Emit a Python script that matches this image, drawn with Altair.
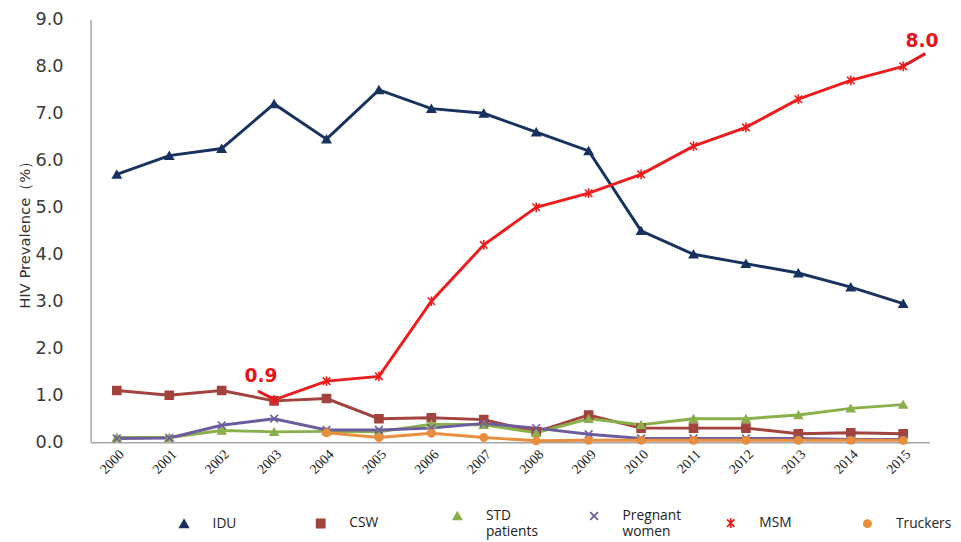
import altair as alt
import pandas as pd

years = list(range(2000, 2016))
series_names = ["IDU", "CSW", "STD patients", "Pregnant women", "MSM", "Truckers"]
idu = [5.7, 6.1, 6.25, 7.2, 6.45, 7.5, 7.1, 7.0, 6.6, 6.2, 4.5, 4.0, 3.8, 3.6, 3.3, 2.95]
csw = [1.1, 1.0, 1.1, 0.88, 0.93, 0.5, 0.52, 0.48, 0.22, 0.58, 0.3, 0.3, 0.3, 0.18, 0.2, 0.18]
std = [0.1, 0.1, 0.25, 0.22, 0.23, 0.22, 0.38, 0.37, 0.2, 0.5, 0.37, 0.5, 0.5, 0.58, 0.72, 0.8]
pregnant = [0.08, 0.09, 0.36, 0.5, 0.26, 0.26, 0.3, 0.4, 0.3, 0.17, 0.08, 0.08, 0.08, 0.08, 0.06, 0.06]
msm = [None, None, None, 0.9, 1.3, 1.4, 3.0, 4.2, 5.0, 5.3, 5.7, 6.3, 6.7, 7.3, 7.7, 8.0]
truckers = [None, None, None, None, 0.2, 0.1, 0.19, 0.1, 0.03, 0.04, 0.04, 0.04, 0.04, 0.04, 0.04, 0.04]

colors = ["#17325F", "#A3433E", "#8AB04B", "#6C5C9E", "#EE1C1C", "#E98E3C"]
shapes = ["triangle-up", "square", "triangle-up",
          "M-1,-1L1,1M-1,1L1,-1",
          "M-1,-1L1,1M-1,1L1,-1M0,-1.3L0,1.3",
          "circle"]
sizes = [70, 55, 70, 90, 90, 70]

rows = []
for name, vals in zip(series_names, [idu, csw, std, pregnant, msm, truckers]):
    for yr, v in zip(years, vals):
        if v is not None:
            rows.append({"series": name, "year": yr, "value": v, "order": series_names.index(name)})
df = pd.DataFrame(rows)

ann_text = pd.DataFrame({"x": [2002.75, 2015.36], "y": [1.40, 8.54], "label": ["0.9", "8.0"]})
ann_lines = pd.DataFrame({"x": [2002.69, 2015.0], "x2": [2003.06, 2015.42],
                          "y": [1.09, 8.0], "y2": [0.88, 8.27]})

xscale = alt.Scale(domain=[1999.5, 2015.5], nice=False, zero=False)
yscale = alt.Scale(domain=[0, 9], nice=False)
cscale = alt.Scale(domain=series_names, range=colors)
shscale = alt.Scale(domain=series_names, range=shapes)

X = alt.X("year:Q", scale=xscale, title=None,
          axis=alt.Axis(values=years, format="d", labelAngle=-45, grid=False, ticks=False))
Y = alt.Y("value:Q", scale=yscale, title="HIV Prevalence（%）",
          axis=alt.Axis(values=list(range(0, 10)), format=".1f", grid=False, ticks=False))

legend = alt.Legend(
    title=None, orient="none", legendX=88, legendY=498, direction="horizontal",
    columns=6, gridAlign="all", columnPadding=42,
    labelFont="Open Sans", labelFontSize=14, labelColor="#222222",
    labelOffset=22, symbolStrokeWidth=1.8, symbolSize=100,
    labelExpr="indexof(datum.label, ' ') > 0 ? split(datum.label, ' ') : datum.label",
)

lines = alt.Chart(df).mark_line(strokeWidth=3).encode(
    x=X, y=Y,
    color=alt.Color("series:N", scale=cscale, legend=legend),
    order="order:Q",
)

points = alt.Chart(df).mark_point(filled=True, strokeWidth=1.6, opacity=1).encode(
    x=X, y=Y,
    color=alt.Color("series:N", scale=cscale, legend=legend),
    stroke=alt.Stroke("series:N", scale=cscale, legend=legend),
    shape=alt.Shape("series:N", scale=shscale, legend=legend),
    size=alt.Size("series:N", scale=alt.Scale(domain=series_names, range=sizes), legend=None),
)

ann_rule = alt.Chart(ann_lines).mark_rule(color="#E8141B", strokeWidth=3).encode(
    x=alt.X("x:Q", scale=xscale), x2="x2:Q",
    y=alt.Y("y:Q", scale=yscale), y2="y2:Q",
)
ann_txt = alt.Chart(ann_text).mark_text(
    color="#E8141B", font="DejaVu Sans", fontWeight="bold", fontSize=19
).encode(
    x=alt.X("x:Q", scale=xscale), y=alt.Y("y:Q", scale=yscale), text="label:N"
)

chart = alt.layer(lines, points, ann_rule, ann_txt).properties(
    width=853, height=430,
    autosize=alt.AutoSizeParams(type="none"),
    padding={"left": 84, "top": 7, "right": 24, "bottom": 100},
).configure_view(stroke=None).configure_axisX(
    domainColor="#A6A6A6", domainWidth=1.5, labelFont="Liberation Serif", labelFontSize=14,
    labelColor="#222222", labelPadding=5,
).configure_axisY(
    domainColor="#A6A6A6", domainWidth=1.5, labelFont="DejaVu Sans", labelFontSize=18,
    labelColor="#3a3a3a", labelPadding=28, titleFont="DejaVu Sans", titleFontSize=15,
    titleFontWeight="normal", titleColor="#333333", titlePadding=3,
)

chart.save("out.html", embed_options={"renderer": "svg", "actions": False})
